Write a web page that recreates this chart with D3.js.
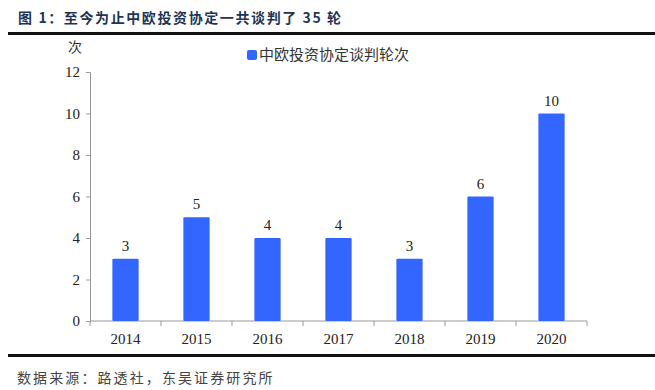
<!DOCTYPE html>
<html><head><meta charset="utf-8">
<script src="https://cdn.jsdelivr.net/npm/d3@7"></script>
<style>body{margin:0;background:#fff}svg{display:block}</style>
</head><body>
<svg id="c" width="655" height="390"></svg>
<script>
const categories = ["2014","2015","2016","2017","2018","2019","2020"];
const values = [3,5,4,4,3,6,10];
const yTicks = [0,2,4,6,8,10,12];
const seriesName = "中欧投资协定谈判轮次";
const titleText = "图 1：至今为止中欧投资协定一共谈判了 35 轮";
const sourceText = "数据来源：路透社，东吴证券研究所";
const yUnit = "次";

const svg = d3.select("#c");
const serif = "'Liberation Serif','Times New Roman',serif";
const cjk = "'Noto Sans CJK SC',sans-serif";

// title
svg.append("text").attr("x",18).attr("y",23).attr("font-family",cjk).attr("font-weight","bold")
  .attr("font-size",14).attr("fill","#1f3556").attr("letter-spacing",1.6).text(titleText);
svg.append("rect").attr("x",8).attr("y",32).attr("width",647).attr("height",3).attr("fill","#111");
svg.append("rect").attr("x",8).attr("y",354).attr("width",647).attr("height",3).attr("fill","#111");
svg.append("text").attr("x",17).attr("y",383).attr("font-family",cjk)
  .attr("font-size",14).attr("fill","#444").attr("letter-spacing",2.1).text(sourceText);

const x = d3.scaleBand().domain(categories).range([90,587]).paddingInner(0.63).paddingOuter(0.315);
const y = d3.scaleLinear().domain([0,12]).range([321,72]);

const axisColor = "#999";
const gy = svg.append("g").attr("transform","translate(90,0)")
  .call(d3.axisLeft(y).tickValues(yTicks).tickSize(4).tickPadding(6));
gy.selectAll("path,line").attr("stroke",axisColor);
gy.selectAll("text").attr("font-family",serif).attr("font-size",15).attr("fill","#222");

const xb = d3.scaleLinear().domain([0,categories.length]).range([90,587]);
const gx = svg.append("g").attr("transform","translate(0,321)");
gx.append("line").attr("x1",90).attr("x2",587).attr("stroke",axisColor);
gx.selectAll("line.t").data(d3.range(categories.length+1)).join("line").attr("class","t")
  .attr("x1",d=>xb(d)).attr("x2",d=>xb(d)).attr("y1",0).attr("y2",5).attr("stroke",axisColor);
gx.selectAll("text").data(categories).join("text")
  .attr("x",d=>x(d)+x.bandwidth()/2).attr("y",23).attr("text-anchor","middle")
  .attr("font-family",serif).attr("font-size",15).attr("fill","#222").text(d=>d);

svg.append("text").attr("x",75).attr("y",52).attr("text-anchor","middle").attr("font-family",cjk)
  .attr("font-size",14).attr("fill","#333").text(yUnit);

svg.selectAll("rect.bar").data(values).join("rect").attr("class","bar")
  .attr("x",(d,i)=>x(categories[i])).attr("width",x.bandwidth())
  .attr("y",d=>y(d)).attr("height",d=>y(0)-y(d)).attr("fill","#3366ff").attr("rx",1);
svg.selectAll("text.lbl").data(values).join("text").attr("class","lbl")
  .attr("x",(d,i)=>x(categories[i])+x.bandwidth()/2).attr("y",d=>y(d)-8).attr("text-anchor","middle")
  .attr("font-family",serif).attr("font-size",15).attr("fill","#222").text(d=>d);

// legend
svg.append("rect").attr("x",247).attr("y",50).attr("width",10).attr("height",10).attr("rx",2).attr("fill","#3366ff");
svg.append("text").attr("x",259).attr("y",60).attr("font-family",cjk).attr("font-size",15)
  .attr("fill","#333").text(seriesName);
</script>
</body></html>
